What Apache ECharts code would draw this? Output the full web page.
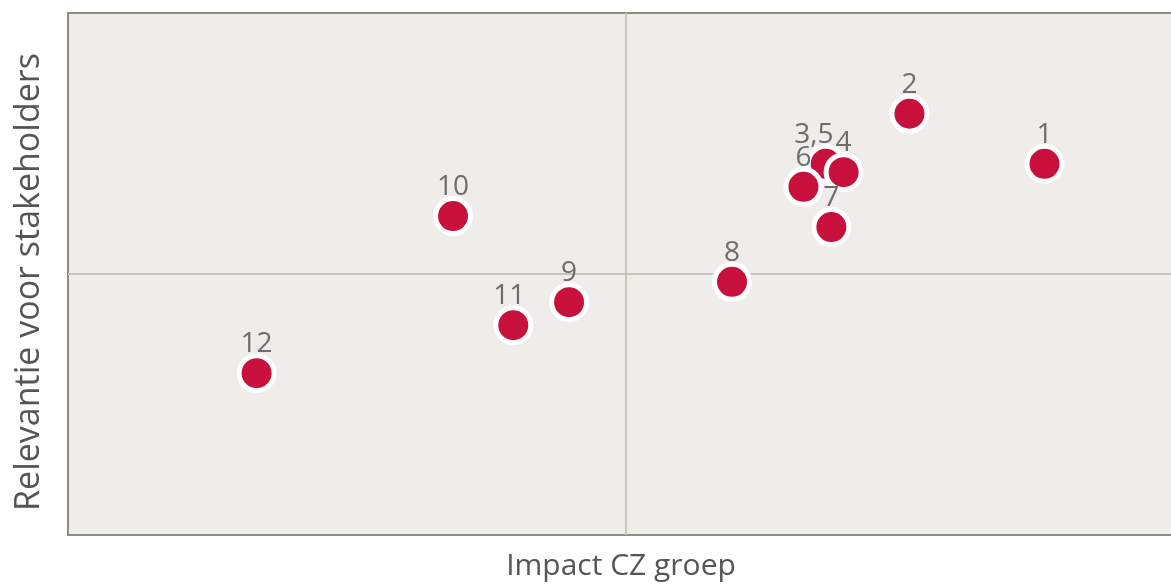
<!DOCTYPE html>
<html>
<head>
<meta charset="utf-8">
<script src="https://cdn.jsdelivr.net/npm/echarts@6/dist/echarts.min.js"></script>
<style>
html,body{margin:0;padding:0;background:#fff;}
#chart{width:1171px;height:585px;}
</style>
</head>
<body>
<div id="chart"></div>
<script>
const pointLabels = ['1', '2', '3,5', '4', '6', '7', '8', '9', '10', '11', '12'];
const impactValues = [8.75, 7.54, 6.79, 6.95, 6.59, 6.84, 5.95, 4.49, 3.45, 3.99, 1.69];
const relevanceValues = [7.11, 8.07, 7.11, 6.95, 6.67, 5.90, 4.85, 4.46, 6.11, 4.02, 3.10];
const xAxisName = 'Impact CZ groep';
const yAxisName = 'Relevantie voor stakeholders';

const labelOffsets = { '3,5': [-12, 0], '11': [-4, 0] };

const data = pointLabels.map((name, i) => ({
  name: name,
  value: [impactValues[i], relevanceValues[i]],
  label: { offset: labelOffsets[name] || [0, 0] }
}));

const chart = echarts.init(document.getElementById('chart'), null, { renderer: 'canvas' });
const font = "'Open Sans', 'Noto Sans', sans-serif";
chart.setOption({
  animation: false,
  backgroundColor: '#ffffff',
  grid: {
    left: 68, top: 13, width: 1116, height: 522,
    outerBoundsMode: 'none', containLabel: false,
    show: true, backgroundColor: '#efedea', borderColor: '#8f8c86', borderWidth: 2
  },
  xAxis: {
    type: 'value', min: 0, max: 10, interval: 5,
    name: xAxisName, nameLocation: 'middle', nameGap: 16,
    nameTextStyle: { fontFamily: font, fontSize: 30, color: '#555456', padding: [0, 10, 0, 0] },
    axisLine: { show: false }, axisTick: { show: false }, axisLabel: { show: false },
    splitLine: { show: true, showMinLine: false, showMaxLine: false, lineStyle: { color: '#c9c4bc', width: 2 } }
  },
  yAxis: {
    type: 'value', min: 0, max: 10, interval: 5,
    name: yAxisName, nameLocation: 'middle', nameGap: 22,
    nameTextStyle: { fontFamily: font, fontSize: 34, color: '#555456', padding: [0, 16, 0, 0] },
    axisLine: { show: false }, axisTick: { show: false }, axisLabel: { show: false },
    splitLine: { show: true, showMinLine: false, showMaxLine: false, lineStyle: { color: '#c9c4bc', width: 2 } }
  },
  series: [{
    type: 'scatter',
    data: data,
    symbol: 'circle',
    symbolSize: 35,
    itemStyle: { color: '#c8103c', borderColor: '#ffffff', borderWidth: 5, opacity: 1 },
    label: {
      show: true, position: 'top', distance: -5,
      formatter: '{b}',
      fontFamily: font, fontSize: 28, color: '#6e6d6b'
    },
    z: 3
  }]
});
</script>
</body>
</html>
